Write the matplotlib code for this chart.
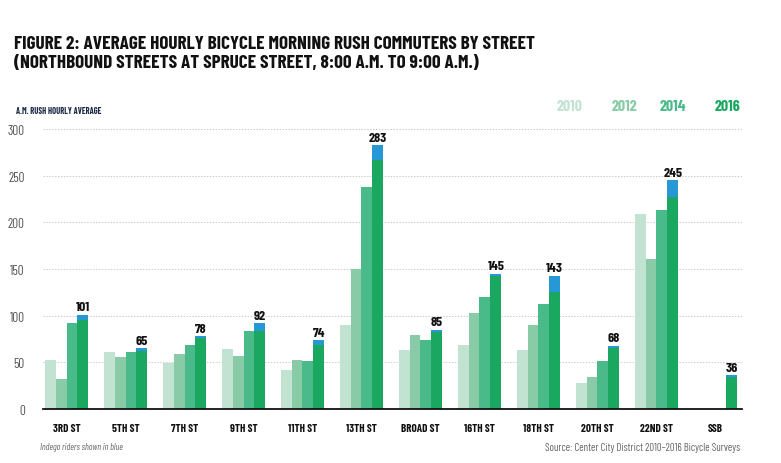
import matplotlib
matplotlib.use("Agg")
import matplotlib.pyplot as plt
import numpy as np

streets = ["3RD ST", "5TH ST", "7TH ST", "9TH ST", "11TH ST", "13TH ST",
           "BROAD ST", "16TH ST", "18TH ST", "20TH ST", "22ND ST", "SSB"]
y2010 = [52.5, 61, 49, 64, 42, 90, 63, 68.5, 63, 28, 209, np.nan]
y2012 = [32, 56, 59, 57, 52.5, 150, 79, 103, 90, 34, 161, np.nan]
y2014 = [92, 61, 69, 84, 51.5, 238, 74, 120, 112.5, 51.5, 213, np.nan]
y2016_total = [101, 65, 78, 92, 74, 283, 85, 145, 143, 68, 245, 36]
indego_2016 = [6, 3, 2, 8, 5, 16, 2.5, 2.5, 17.5, 3, 18, 1.5]
years = ["2010", "2012", "2014", "2016"]
yticks = [0, 50, 100, 150, 200, 250, 300]

c2010, c2012, c2014, c2016 = "#c2e3d2", "#88cba6", "#4aba8a", "#1aa760"
cblue = "#2698d6"
colors = [c2010, c2012, c2014, c2016]

cond = ["Barlow Condensed", "DejaVu Sans"]
ST = "condensed"

fig = plt.figure(figsize=(7.81, 4.64), dpi=100)
ax = fig.add_axes([0.055, 0.1164, 0.895, 0.6034])

x = np.arange(len(streets))
w = 0.185
green16 = np.array(y2016_total) - np.array(indego_2016)
for i, vals in enumerate([y2010, y2012, y2014]):
    ax.bar(x + (i - 1.5) * w, vals, w, color=colors[i], linewidth=0, zorder=2)
ax.bar(x + 1.5 * w, green16, w, color=c2016, linewidth=0, zorder=2)
ax.bar(x + 1.5 * w, indego_2016, w, bottom=green16, color=cblue, linewidth=0, zorder=2)
for xi, t in zip(x, y2016_total):
    ax.text(xi + 1.5 * w, t + 2.5, str(t), ha="center", va="bottom",
            fontsize=10, fontweight="bold", family=cond, fontstretch=ST,
            color="#111111", clip_on=False)

ax.set_xlim(-0.4, 11.45)
ax.set_ylim(0, 300)
ax.set_yticks(yticks)
ax.set_yticklabels([str(v) for v in yticks], family=cond, fontstretch=ST,
                   fontsize=9.5, color="#555555")
ax.set_xticks(x)
ax.set_xticklabels(streets, family=cond, fontstretch=ST, fontsize=8,
                   fontweight="bold", color="#111111")
ax.tick_params(axis="both", length=0)
ax.tick_params(axis="y", pad=13)
ax.tick_params(axis="x", pad=10)
for s in ["top", "right", "left"]:
    ax.spines[s].set_visible(False)
ax.spines["bottom"].set_linewidth(1.3)
ax.spines["bottom"].set_color("#111111")
for v in yticks[1:]:
    ax.axhline(v, color="#cccccc", linewidth=0.7, linestyle=(0, (1.5, 1.5)), zorder=1)

fig.text(14 / 781, 1 - 36 / 464, "FIGURE 2: AVERAGE HOURLY BICYCLE MORNING RUSH COMMUTERS BY STREET",
         ha="left", va="top", fontsize=13.8, fontweight="bold", family=cond, fontstretch=ST,
         color="#111111")
fig.text(14 / 781, 1 - 55 / 464, "(NORTHBOUND STREETS AT SPRUCE STREET, 8:00 A.M. TO 9:00 A.M.)",
         ha="left", va="top", fontsize=13.8, fontweight="bold", family=cond, fontstretch=ST,
         color="#111111")
fig.text(16 / 781, 1 - 112 / 464, "A.M. RUSH HOURLY AVERAGE", ha="left", va="center",
         fontsize=6.1, fontweight="bold", family=cond, fontstretch=ST, color="#1b2a44")
for yr, c, xr in zip(years, colors, [583, 637, 686, 740]):
    fig.text(xr / 781, 1 - 107 / 464, yr, ha="right", va="center", fontsize=11.5,
             fontweight="bold", family=cond, fontstretch=ST, color=c)
fig.text(40 / 781, 1 - 448 / 464, "Indego riders shown in blue", ha="left", va="center",
         fontsize=6.6, style="italic", family=cond, fontstretch=ST, color="#666666")
fig.text(740 / 781, 1 - 448 / 464, "Source: Center City District 2010\u20132016 Bicycle Surveys",
         ha="right", va="center", fontsize=7.7, family=cond, fontstretch=ST, color="#666666")

fig.savefig("out.png", dpi=100)
